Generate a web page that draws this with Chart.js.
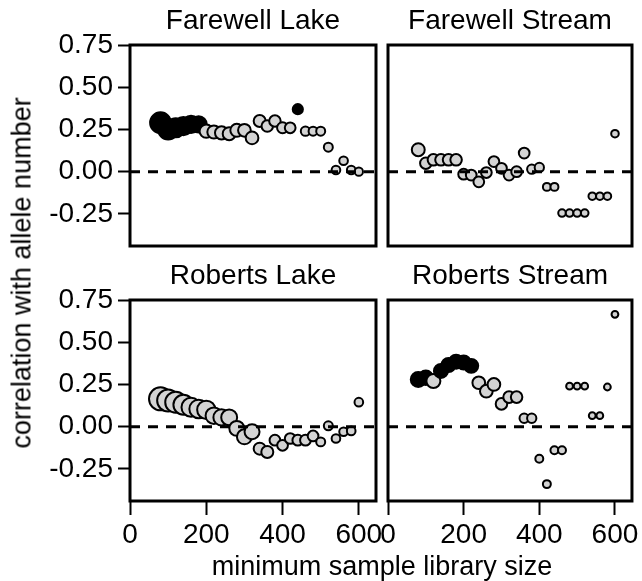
<!DOCTYPE html>
<html>
<head>
<meta charset="utf-8">
<script src="https://cdn.jsdelivr.net/npm/chart.js@4/dist/chart.umd.min.js"></script>
<style>
  body { margin: 0; background: #fff; }
  #wrap { position: relative; width: 642px; height: 581px; background: #fff; font-family: "Liberation Sans", Arial, sans-serif; }
  #wrap canvas { position: absolute; left: 0; top: 0; }
  .txt { position: absolute; white-space: nowrap; color: #000; transform: translate(-50%, -50%); line-height: 1; }
</style>
</head>
<body>
<div id="wrap">
  <canvas id="c1" width="642" height="581"></canvas>
  <canvas id="c2" width="642" height="581"></canvas>
  <canvas id="c3" width="642" height="581"></canvas>
  <canvas id="c4" width="642" height="581"></canvas>
  <div class="txt" style="left:253px;top:20px;font-size:28px">Farewell Lake</div>
  <div class="txt" style="left:510px;top:20px;font-size:28px">Farewell Stream</div>
  <div class="txt" style="left:253px;top:275px;font-size:28px">Roberts Lake</div>
  <div class="txt" style="left:510px;top:275px;font-size:28px">Roberts Stream</div>
  <div class="txt" style="left:22px;top:273px;font-size:27px;transform:translate(-50%,-50%) rotate(-90deg)">correlation with allele number</div>
  <div class="txt" style="left:382px;top:566px;font-size:27px">minimum sample library size</div>
</div>
<script>
// minimum library size thresholds (x)
var librarySize = [80, 100, 120, 140, 160, 180, 200, 220, 240, 260, 280, 300, 320, 340,
                   360, 380, 400, 420, 440, 460, 480, 500, 520, 540, 560, 580, 600]
var xTicks = [0, 200, 400, 600]
var yTicks = [-0.25, 0, 0.25, 0.5, 0.75]

// Farewell Lake
var flCorr = [0.29, 0.25, 0.26, 0.27, 0.28, 0.28, 0.24, 0.235, 0.23, 0.225, 0.245, 0.245, 0.20, 0.30,
              0.27, 0.30, 0.26, 0.26, 0.37, 0.24, 0.24, 0.24, 0.145, 0.01, 0.065, 0.01, 0.0]
var flSamples = [75, 70, 64, 58, 52, 46, 31, 30, 30, 29, 29, 28, 28, 25,
                 23, 23, 21, 20, 18, 15, 14, 14, 14, 13, 13, 13, 12]
var flSignif = [1, 1, 1, 1, 1, 1, 0, 0, 0, 0, 0, 0, 0, 0, 0, 0, 0, 0, 1, 0, 0, 0, 0, 0, 0, 0, 0]

// Farewell Stream
var fsCorr = [0.13, 0.05, 0.07, 0.07, 0.07, 0.07, -0.015, -0.02, -0.06, -0.005, 0.06, 0.02, -0.02, 0.0,
              0.11, 0.015, 0.025, -0.09, -0.09, -0.245, -0.245, -0.245, -0.245, -0.145, -0.145, -0.145, 0.225]
var fsSamples = [29, 23, 23, 23, 23, 23, 20, 20, 20, 20, 20, 20, 20, 20,
                 20, 15, 15, 11, 11, 10, 10, 10, 10, 10, 10, 10, 10]
var fsSignif = [0, 0, 0, 0, 0, 0, 0, 0, 0, 0, 0, 0, 0, 0, 0, 0, 0, 0, 0, 0, 0, 0, 0, 0, 0, 0, 0]

// Roberts Lake
var rlCorr = [0.165, 0.155, 0.145, 0.13, 0.115, 0.105, 0.10, 0.065, 0.055, 0.055, -0.01, -0.06, -0.03, -0.13,
              -0.15, -0.08, -0.11, -0.07, -0.08, -0.08, -0.055, -0.09, 0.005, -0.07, -0.03, -0.025, 0.145]
var rlSamples = [92, 84, 77, 69, 63, 60, 58, 48, 46, 44, 39, 39, 39, 25,
                 25, 20, 20, 20, 20, 20, 20, 14, 14, 13, 13, 13, 13]
var rlSignif = [0, 0, 0, 0, 0, 0, 0, 0, 0, 0, 0, 0, 0, 0, 0, 0, 0, 0, 0, 0, 0, 0, 0, 0, 0, 0, 0]

// Roberts Stream
var rsCorr = [0.28, 0.29, 0.27, 0.33, 0.365, 0.385, 0.38, 0.36, 0.26, 0.21, 0.25, 0.135, 0.175, 0.175,
              0.05, 0.05, -0.19, -0.34, -0.14, -0.14, 0.24, 0.24, 0.24, 0.065, 0.065, 0.235, 0.665]
var rsSamples = [39, 36, 34, 34, 34, 34, 34, 34, 28, 28, 28, 23, 23, 23,
                 15, 15, 11, 11, 11, 11, 8, 8, 8, 8, 8, 8, 8]
var rsSignif = [1, 1, 0, 1, 1, 1, 1, 1, 0, 0, 0, 0, 0, 0, 0, 0, 0, 0, 0, 0, 0, 0, 0, 0, 0, 0, 0]

var xMin = 0, xMax = 645
var yMin = -0.44, yMax = 0.75

var W = 642, H = 581
var FONT = { family: '"Liberation Sans", Arial, sans-serif', size: 28 }

// box outline round the plot area
var framePlugin = {
    id: 'frame',
    afterDraw(chart) {
        const a = chart.chartArea
        const ctx = chart.ctx
        ctx.save()
        ctx.strokeStyle = '#000'
        ctx.lineWidth = 3
        ctx.strokeRect(a.left, a.top, a.right - a.left, a.bottom - a.top)
        ctx.restore()
    }
}

function panel(id, box, corr, samples, signif, showX, showY) {
    const pts = librarySize.map((x, i) => ({ x: x, y: corr[i] }))
    const xScale = {
        type: 'linear',
        display: showX,
        min: xMin, max: xMax,
        afterBuildTicks: axis => { axis.ticks = xTicks.map(v => ({ value: v })) },
        grid: { drawOnChartArea: false, drawTicks: true, tickLength: 14, tickWidth: 2, color: '#000' },
        border: { display: false },
        ticks: { color: '#000', font: FONT, padding: 3, maxRotation: 0, autoSkip: false }
    }
    if (showX) xScale.afterFit = axis => { axis.height = H - box.b }
    const yScale = {
        type: 'linear',
        display: showY,
        min: yMin, max: yMax,
        afterBuildTicks: axis => { axis.ticks = yTicks.map(v => ({ value: v })) },
        grid: { drawOnChartArea: false, drawTicks: true, tickLength: 12, tickWidth: 2, color: '#000' },
        border: { display: false },
        ticks: { color: '#000', font: FONT, padding: 5, callback: v => v.toFixed(2) }
    }
    if (showY) yScale.afterFit = axis => { axis.width = box.l }

    new Chart(document.getElementById(id), {
        type: 'scatter',
        data: {
            datasets: [{
                // zero reference line
                data: [{ x: xMin, y: 0 }, { x: xMax, y: 0 }],
                showLine: true,
                borderColor: '#000',
                borderWidth: 3,
                borderDash: [10, 8],
                pointRadius: 0,
                order: 0
            }, {
                data: pts,
                pointRadius: ctx => 1.2 * Math.sqrt(samples[ctx.dataIndex]),
                backgroundColor: ctx => signif[ctx.dataIndex] ? '#000' : '#d3d3d3',
                borderColor: '#000',
                borderWidth: 2,
                order: 1
            }]
        },
        options: {
            responsive: false,
            animation: false,
            devicePixelRatio: 1,
            layout: {
                padding: {
                    left: showY ? 0 : box.l,
                    top: box.t,
                    right: W - box.r,
                    bottom: showX ? 0 : H - box.b
                }
            },
            plugins: { legend: { display: false }, tooltip: { enabled: false } },
            scales: { x: xScale, y: yScale }
        },
        plugins: [framePlugin]
    })
}

panel('c1', { l: 130, t: 45, r: 376, b: 246 }, flCorr, flSamples, flSignif, false, true)
panel('c2', { l: 388, t: 45, r: 632, b: 246 }, fsCorr, fsSamples, fsSignif, false, false)
panel('c3', { l: 130, t: 300, r: 376, b: 501 }, rlCorr, rlSamples, rlSignif, true, true)
panel('c4', { l: 388, t: 300, r: 632, b: 501 }, rsCorr, rsSamples, rsSignif, true, false)
</script>
</body>
</html>
